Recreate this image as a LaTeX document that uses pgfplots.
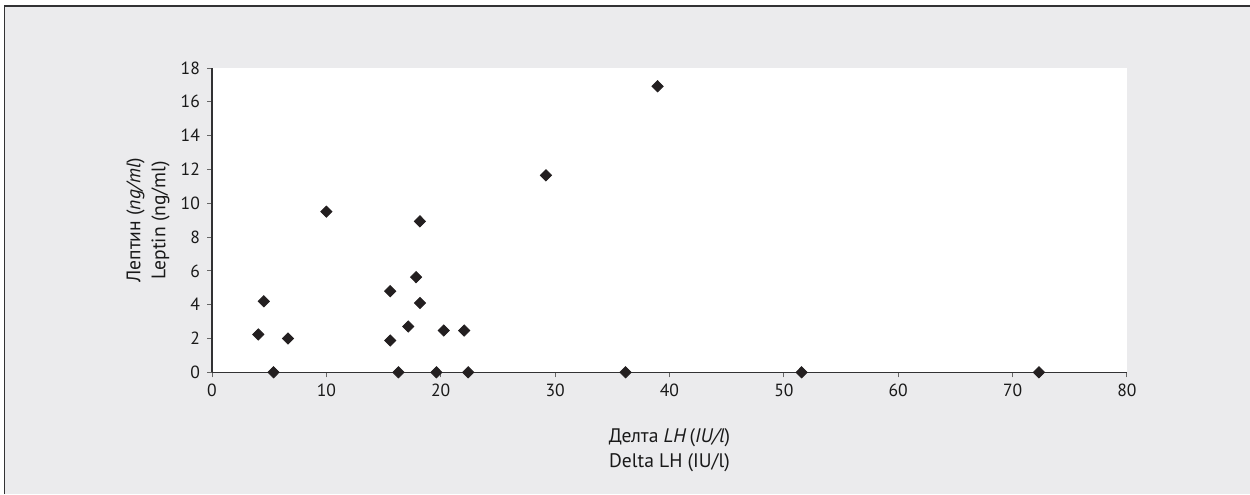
\documentclass[border=0pt]{standalone}
\usepackage{fontspec}
\setmainfont{PT Sans}
\usepackage{pgfplots}
\pgfplotsset{compat=1.18}
\definecolor{bg}{RGB}{235,235,237}
\definecolor{frame}{RGB}{50,50,52}
\definecolor{mk}{RGB}{35,31,32}
\begin{document}
\begin{tikzpicture}
\useasboundingbox (0,0) rectangle (625pt,-247pt);
\fill[white] (0,0) rectangle (625pt,-247pt);
\fill[bg] (2.25pt,-2.85pt) rectangle (625pt,-247pt);
\draw[frame, line width=0.85pt] (2.25pt,-247pt) -- (2.25pt,-2.85pt) -- (625pt,-2.85pt);
\begin{axis}[
  at={(106pt,-186.15pt)}, anchor=south west,
  scale only axis, width=457.5pt, height=152.15pt,
  xmin=0, xmax=80, ymin=0, ymax=18,
  xtick distance=10, ytick distance=2,
  axis lines=left,
  x axis line style={-, frame, line width=0.7pt},
  y axis line style={-, frame, line width=0.7pt},
  axis background/.style={fill=white},
  tick align=outside,
  major tick length=2.5pt,
  tick style={black!60, line width=0.5pt},
  /pgf/number format/assume math mode=true,
  ticklabel style={font=\fontsize{8.8}{10}\selectfont, text=black!90},
  xlabel={Делта \textit{LH}\,(\textit{IU/l})\\Delta LH (IU/l)},
  ylabel={Лептин (\textit{ng/ml})\\Leptin (ng/ml)},
  xlabel style={at={(axis description cs:0.5,0)}, anchor=north, yshift=-28pt, inner sep=0pt, align=center, font=\fontsize{9.8}{12.5}\selectfont, text=black!90},
  ylabel style={at={(axis description cs:0,0.5)}, anchor=south, yshift=21pt, inner sep=0pt, align=center, font=\fontsize{9.8}{12.5}\selectfont, text=black!90},
]
\addplot[only marks, mark=diamond*, mark size=2.8pt, mark options={xscale=1.33, fill=mk, draw=mk}] coordinates {
(4.05,2.24) (4.53,4.20) (6.64,2.00) (5.38,0) (15.58,4.80) (15.58,1.88)
(16.30,0) (17.84,5.63) (18.19,4.10) (17.16,2.71) (19.62,0) (20.26,2.47)
(22.05,2.47) (22.40,0) (10.0,9.5) (18.18,8.93) (38.96,16.92) (29.2,11.65)
(36.16,0) (51.55,0) (72.3,0)
};
\end{axis}
\end{tikzpicture}
\end{document}
